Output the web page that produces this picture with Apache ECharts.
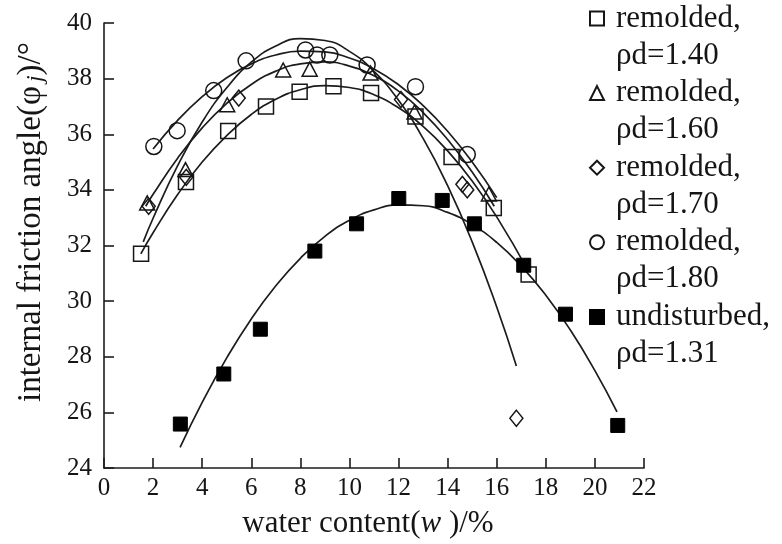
<!DOCTYPE html>
<html><head><meta charset="utf-8">
<script src="https://cdn.jsdelivr.net/npm/echarts@6/dist/echarts.min.js"></script>
<style>html,body{margin:0;padding:0;background:#fff}#c{width:782px;height:544px}</style>
</head><body><div id="c"></div>
<script>
// axis ranges
const xRange = [0, 22, 2];
const yRange = [24, 40, 2];

// series names
const names = ['remolded,\nρd=1.40', 'remolded,\nρd=1.60', 'remolded,\nρd=1.70', 'remolded,\nρd=1.80', 'undisturbed,\nρd=1.31'];

// measured points [w, phi]
const sq140 = [[1.51,31.7],[3.34,34.28],[5.06,36.12],[6.6,37.0],[7.97,37.53],[9.35,37.73],[10.88,37.48],[12.69,36.64],[14.16,35.18],[15.88,33.35],[17.3,30.96]];
const tri160 = [[1.76,33.53],[3.32,34.73],[5.02,37.06],[7.3,38.31],[8.38,38.34],[10.86,38.2],[12.65,36.8],[15.68,33.85]];
const dia170 = [[1.82,33.41],[3.35,34.45],[5.49,37.3],[12.1,37.25],[14.6,34.2],[14.8,34.0],[16.8,25.79]];
const cir180 = [[2.03,35.56],[2.98,36.13],[4.47,37.57],[5.79,38.64],[8.21,39.03],[8.68,38.85],[9.2,38.85],[10.72,38.49],[12.69,37.71],[14.8,35.27]];
const und131 = [[3.11,25.58],[4.88,27.38],[6.37,28.99],[8.59,31.8],[10.29,32.78],[12.01,33.69],[13.78,33.62],[15.09,32.78],[17.1,31.29],[18.8,29.53],[20.93,25.53]];

// fitted curves
const fit140 = [[1.5,31.7],[2,32.46],[3,33.83],[4,35.0],[5,35.95],[6,36.71],[7,37.26],[8,37.6],[9,37.75],[10,37.68],[11,37.42],[12,36.95],[13,36.28],[14,35.4],[15,34.32],[16,33.03],[17.3,31.06]];
const fit160 = [[1.7,33.41],[2,33.84],[3,35.14],[4,36.23],[5,37.11],[6,37.79],[7,38.27],[8,38.53],[9,38.6],[10,38.45],[11,38.1],[12,37.55],[13,36.78],[14,35.81],[15,34.64],[15.9,33.41]];
const fit170 = [[1.6,32.13],[2,32.98],[3,34.87],[4,36.44],[5,37.67],[6,38.59],[7,39.17],[8,39.44],[9,39.37],[10,38.98],[11,38.26],[12,37.22],[13,35.85],[14,34.15],[15,32.13],[16,29.79],[16.8,27.67]];
const fit180 = [[2,35.47],[3,36.5],[4,37.35],[5,38.03],[6,38.53],[7,38.85],[8,38.99],[9,38.96],[10,38.74],[11,38.35],[12,37.78],[13,37.03],[14,36.11],[15,35.0],[16,33.72]];
const fit131 = [[3.1,24.74],[4,26.36],[5,27.96],[6,29.36],[7,30.55],[8,31.54],[9,32.33],[10,32.91],[11,33.28],[12,33.46],[13,33.43],[14,33.19],[15,32.75],[16,32.11],[17,31.26],[18,30.21],[19,28.96],[20,27.5],[20.9,26.02]];

const F = '"Liberation Serif","Times New Roman",serif';
const INK = '#151515';
const hollow = {color:'rgba(0,0,0,0)', borderColor:'#161616', borderWidth:1.5, opacity:1};

function curve(d){
  return {type:'line', data:d, smooth:true, showSymbol:false, silent:true, z:1,
    lineStyle:{color:'#1c1c1c', width:1.7}};
}
function pts(name, d, symbol, size, style){
  return {type:'scatter', name:name, data:d, symbol:symbol, symbolSize:size, z:3, itemStyle:style};
}

const chart = echarts.init(document.getElementById('c'));
const axisCommon = {
  type:'value',
  axisLine:{show:true, lineStyle:{color:'#1c1c1c', width:1.6}},
  axisTick:{show:true, inside:true, length:10, lineStyle:{color:'#1c1c1c', width:1.6}},
  splitLine:{show:false},
  axisLabel:{color:INK, fontFamily:F, fontSize:25}
};
chart.setOption({
  animation:false,
  backgroundColor:'#fff',
  grid:{left:104, right:138, top:23, bottom:75},
  xAxis:Object.assign({}, axisCommon, {
    min:xRange[0], max:xRange[1], interval:xRange[2],
    axisLabel:Object.assign({}, axisCommon.axisLabel, {margin:8}),
    name:'water content({i|w} )/%', nameLocation:'middle', nameGap:40,
    nameTextStyle:{color:INK, fontFamily:F, fontSize:31, padding:[0,12,0,0],
      rich:{i:{fontFamily:F, fontSize:31, fontStyle:'italic', color:INK}}}
  }),
  yAxis:Object.assign({}, axisCommon, {
    min:yRange[0], max:yRange[1], interval:yRange[2],
    axisLabel:Object.assign({}, axisCommon.axisLabel, {margin:12})
  }),
  graphic:[{
    type:'text', x:31, y:222, rotation:Math.PI/2,
    style:{text:'internal friction angle(φ{j|j})/°', fill:INK, font:'33px ' + F,
      align:'center', verticalAlign:'middle',
      rich:{j:{fontFamily:F, fontSize:24, fontStyle:'italic', fill:INK, padding:[10,0,0,4]}}}
  }],
  legend:{
    orient:'vertical', left:589, top:-37, padding:0,
    itemWidth:14, itemHeight:14, itemGap:-36.4,
    data:names,
    formatter:function(n){
      const p = n.split('\n');
      return '{a| }\n{a|' + p[0] + '}\n{a|' + p[1] + '}';
    },
    textStyle:{fontFamily:F, fontSize:31, color:INK, lineHeight:37,
      rich:{a:{fontFamily:F, fontSize:31, color:INK, lineHeight:37, padding:[0,0,0,7]}}}
  },
  series:[
    curve(fit140), curve(fit160), curve(fit170), curve(fit180), curve(fit131),
    pts(names[0], sq140, 'rect', 15, hollow),
    pts(names[1], tri160, 'triangle', [15,14], hollow),
    pts(names[2], dia170, 'diamond', [13,16], hollow),
    pts(names[3], cir180, 'circle', 16, hollow),
    pts(names[4], und131, 'rect', 14, {color:'#000', borderColor:'#000', borderWidth:1, opacity:1})
  ]
});
</script></body></html>
